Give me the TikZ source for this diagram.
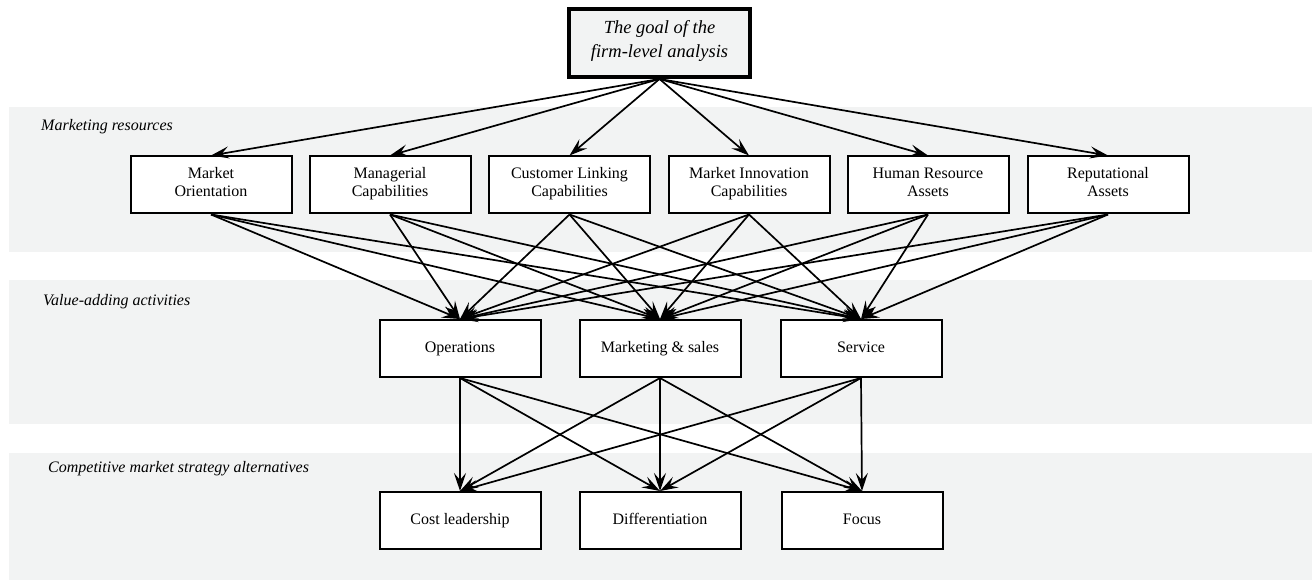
\documentclass[tikz,border=0pt]{standalone}
\usepackage{fontspec}
\setmainfont{Liberation Serif}
\usetikzlibrary{arrows.meta}
\definecolor{bandgray}{HTML}{F2F3F3}
\tikzset{
  band/.style={fill=bandgray, draw=none},
  bandlabel/.style={anchor=base west, inner sep=0pt, font=\fontsize{16}{18}\selectfont\itshape},
  box/.style={draw=black, line width=2pt, fill=white, minimum width=161pt, minimum height=57pt, inner sep=0pt, align=center, font=\fontsize{16}{18}\selectfont, execute at begin node=\strut, execute at end node=\strut},
  goalbox/.style={draw=black, line width=4pt, fill=bandgray, minimum width=181pt, minimum height=68pt, inner sep=0pt, align=center, font=\fontsize{18.5}{24}\selectfont\itshape, execute at begin node=\strut, execute at end node=\strut},
  arr/.style={line width=1.7pt, -{Stealth[length=18pt,width=12pt,inset=7pt]}}
}
\begin{document}
\begin{tikzpicture}[x=1pt,y=-1pt]
\useasboundingbox (0,0) rectangle (1312,580);
\fill[white] (0,0) rectangle (1312,580);
% bands
\fill[band] (9,107) rectangle (1312,252);
\fill[band] (9,280) rectangle (1312,424);
\fill[band] (9,453) rectangle (1312,580);
\node[bandlabel] (l1) at (41,131) {Marketing resources};
\node[bandlabel] (l2) at (43,305) {Value-adding activities};
\node[bandlabel] (l3) at (48,472) {Competitive market strategy alternatives};
% goal
\node[goalbox] (g) at (659.5,43) {The goal of the\\firm-level analysis};
% row 1
\node[box] (r1) at (211,185) {Market\\Orientation};
\node[box] (r2) at (390,185) {Managerial\\Capabilities};
\node[box] (r3) at (569.5,185) {Customer Linking\\Capabilities};
\node[box] (r4) at (749,185) {Market Innovation\\Capabilities};
\node[box] (r5) at (928,185) {Human Resource\\Assets};
\node[box] (r6) at (1108,185) {Reputational\\Assets};
% row 2
\node[box] (v1) at (460,348.5) {Operations};
\node[box] (v2) at (660,348.5) {Marketing \& sales};
\node[box] (v3) at (861,348.5) {Service};
% row 3
\node[box] (c1) at (460,520.5) {Cost leadership};
\node[box] (c2) at (660,520.5) {Differentiation};
\node[box] (c3) at (862,520.5) {Focus};
% arrows
\foreach \t in {r1,r2,r3,r4,r5,r6} \draw[arr] (g.south) -- (\t.north);
\foreach \s in {r1,r2,r3,r4,r5,r6} \foreach \t in {v1,v2,v3} \draw[arr] (\s.south) -- (\t.north);
\foreach \s in {v1,v2,v3} \foreach \t in {c1,c2,c3} \draw[arr] (\s.south) -- (\t.north);
\end{tikzpicture}
\end{document}
